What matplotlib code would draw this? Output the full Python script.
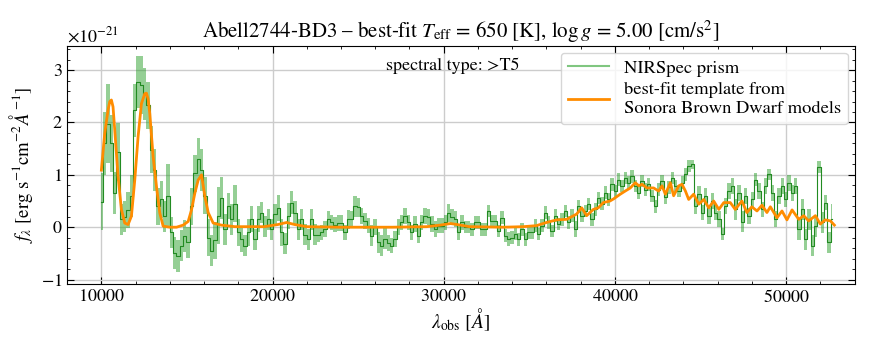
import matplotlib
matplotlib.use("Agg")
import matplotlib.pyplot as plt
from matplotlib.lines import Line2D
import numpy as np

# NIRSpec prism spectrum (flux in units of 1e-21 erg/s/cm2/A)
wave = [10000, 10195, 10390, 10585, 10780, 10975, 11170, 11365, 11560, 11755,
        11950, 12145, 12340, 12535, 12730, 12925, 13120, 13315, 13510, 13705,
        13900, 14095, 14290, 14485, 14680, 14875, 15070, 15265, 15460, 15655,
        15850, 16045, 16240, 16435, 16630, 16825, 17020, 17215, 17410, 17605,
        17800, 17995, 18190, 18385, 18580, 18775, 18970, 19165, 19360, 19555,
        19750, 19945, 20140, 20335, 20530, 20725, 20920, 21115, 21310, 21505,
        21700, 21895, 22090, 22285, 22480, 22675, 22870, 23065, 23260, 23455,
        23650, 23845, 24040, 24235, 24430, 24625, 24820, 25015, 25210, 25405,
        25600, 25795, 25990, 26185, 26380, 26575, 26770, 26965, 27160, 27355,
        27550, 27745, 27940, 28135, 28330, 28525, 28720, 28915, 29110, 29305,
        29500, 29695, 29890, 30085, 30280, 30475, 30670, 30865, 31060, 31255,
        31450, 31645, 31840, 32035, 32230, 32425, 32620, 32815, 33010, 33205,
        33400, 33595, 33790, 33985, 34180, 34375, 34570, 34765, 34960, 35155,
        35350, 35545, 35740, 35935, 36130, 36325, 36520, 36715, 36910, 37105,
        37300, 37495, 37690, 37885, 38080, 38275, 38470, 38665, 38860, 39055,
        39250, 39445, 39640, 39835, 40030, 40225, 40420, 40615, 40810, 41005,
        41200, 41395, 41590, 41785, 41980, 42175, 42370, 42565, 42760, 42955,
        43150, 43345, 43540, 43735, 43930, 44125, 44320, 44515, 44710, 44905,
        45100, 45295, 45490, 45685, 45880, 46075, 46270, 46465, 46660, 46855,
        47050, 47245, 47440, 47635, 47830, 48025, 48220, 48415, 48610, 48805,
        49000, 49195, 49390, 49585, 49780, 49975, 50170, 50365, 50560, 50755,
        50950, 51145, 51340, 51535, 51730, 51925, 52120, 52315, 52510, 52705]
flux = [0.49, 1.60, 1.98, 1.60, 0.65, 1.44, 0.15, 0.20, 0.33, 0.60,
        2.23, 2.77, 2.72, 2.55, 2.33, 1.48, 1.10, 0.40, 0.53, 0.21,
        0.60, -0.10, -0.49, -0.55, -0.35, -0.17, -0.29, 0.40, 1.03, 1.30,
        1.10, 0.60, -0.20, -0.45, -0.25, 0.22, 0.55, -0.04, 0.40, 0.15,
        0.45, -0.10, -0.23, -0.35, -0.10, 0.15, -0.23, 0.15, 0.28, 0.02,
        0.15, -0.04, 0.25, 0.37, -0.10, -0.32, 0.22, 0.47, 0.28, -0.04,
        0.15, -0.14, -0.23, 0.15, -0.14, -0.14, -0.10, -0.04, 0.15, 0.09,
        0.05, 0.08, 0.08, -0.10, 0.15, 0.15, 0.40, 0.38, 0.22, 0.12,
        0.03, -0.16, 0.00, -0.29, -0.35, -0.22, -0.30, -0.35, -0.22, 0.00,
        0.09, 0.22, 0.09, -0.10, 0.06, -0.16, 0.09, 0.22, 0.20, 0.06,
        -0.03, 0.03, 0.03, 0.09, 0.27, 0.20, 0.15, -0.10, 0.09, 0.00,
        0.00, -0.04, 0.09, 0.09, -0.04, -0.04, 0.31, 0.12, 0.12, -0.07,
        0.18, -0.16, -0.23, -0.20, -0.13, -0.23, -0.04, -0.23, -0.10, -0.10,
        0.03, -0.13, 0.03, 0.28, 0.09, -0.07, 0.22, 0.06, 0.15, 0.31,
        0.09, 0.22, -0.04, 0.40, 0.22, 0.31, 0.44, 0.15, 0.34, 0.56,
        0.45, 0.66, 0.53, 0.82, 0.69, 0.91, 0.79, 0.94, 0.85, 0.97,
        0.79, 0.66, 0.88, 0.72, 0.82, 0.60, 0.40, 0.72, 0.88, 0.57,
        0.76, 0.94, 0.79, 0.69, 0.85, 1.01, 1.17, 1.20, 0.40, 0.63,
        0.28, 0.60, 0.21, 0.50, 0.28, 0.15, -0.13, 0.40, 0.69, 0.79,
        0.34, 0.66, 0.10, 0.60, 0.21, 0.53, 0.91, 0.69, 0.34, 0.79,
        1.01, 0.66, 0.15, 0.60, 0.79, 0.53, 0.85, 0.66, 0.79, -0.04,
        0.34, -0.23, 0.15, -0.35, 0.02, 1.15, 0.09, 0.47, -0.29, 0.15]
err = [0.55, 0.60, 0.75, 0.55, 0.40, 0.55, 0.30, 0.30, 0.35, 0.40,
       0.50, 0.50, 0.55, 0.50, 0.45, 0.45, 0.40, 0.35, 0.35, 0.30,
       0.60, 0.30, 0.30, 0.30, 0.30, 0.30, 0.30, 0.35, 0.35, 0.40,
       0.40, 0.35, 0.35, 0.30, 0.35, 0.55, 0.40, 0.30, 0.25, 0.30,
       0.35, 0.25, 0.25, 0.20, 0.25, 0.25, 0.20, 0.25, 0.20, 0.20,
       0.20, 0.20, 0.20, 0.25, 0.25, 0.20, 0.25, 0.22, 0.22, 0.20,
       0.20, 0.20, 0.20, 0.20, 0.20, 0.15, 0.15, 0.15, 0.15, 0.15,
       0.15, 0.15, 0.15, 0.15, 0.18, 0.15, 0.20, 0.18, 0.15, 0.15,
       0.15, 0.20, 0.15, 0.20, 0.20, 0.20, 0.15, 0.15, 0.15, 0.15,
       0.15, 0.15, 0.15, 0.15, 0.15, 0.15, 0.15, 0.15, 0.15, 0.15,
       0.15, 0.15, 0.15, 0.15, 0.17, 0.15, 0.15, 0.15, 0.15, 0.12,
       0.12, 0.12, 0.12, 0.12, 0.12, 0.12, 0.12, 0.12, 0.12, 0.12,
       0.12, 0.12, 0.13, 0.12, 0.12, 0.12, 0.12, 0.12, 0.12, 0.12,
       0.12, 0.12, 0.12, 0.12, 0.12, 0.12, 0.12, 0.12, 0.12, 0.12,
       0.12, 0.12, 0.15, 0.12, 0.12, 0.12, 0.12, 0.12, 0.12, 0.12,
       0.12, 0.12, 0.12, 0.12, 0.12, 0.12, 0.12, 0.12, 0.12, 0.12,
       0.12, 0.12, 0.12, 0.12, 0.12, 0.12, 0.12, 0.12, 0.12, 0.12,
       0.12, 0.12, 0.12, 0.12, 0.12, 0.12, 0.12, 0.08, 0.15, 0.15,
       0.15, 0.15, 0.15, 0.15, 0.15, 0.15, 0.12, 0.15, 0.15, 0.15,
       0.20, 0.15, 0.20, 0.15, 0.15, 0.15, 0.12, 0.15, 0.15, 0.15,
       0.10, 0.15, 0.15, 0.15, 0.15, 0.15, 0.15, 0.15, 0.15, 0.20,
       0.20, 0.20, 0.20, 0.20, 0.20, 0.12, 0.20, 0.15, 0.20, 0.30]

# best-fit Sonora template
model_wave = [10000, 10195, 10390, 10490, 10585, 10680, 10780, 10975, 11170, 11365,
              11560, 11755, 11950, 12145, 12340, 12535, 12633, 12730, 12828, 13022,
              13218, 13413, 13608, 14000, 14390, 14780, 15070, 15265, 15460, 15655,
              15850, 16045, 16240, 16530, 17000, 17800, 19500, 20300, 20820, 21300,
              22000, 24000, 27000, 29000, 29800, 30400, 30800, 31500, 33500, 34640,
              35420, 36000, 36600, 37180, 37760, 38060, 38350, 38740, 39030, 39320,
              39710, 39920, 40310, 40600, 40900, 41190, 41400, 41580, 41870, 42260,
              42550, 42750, 42950, 43240, 43430, 43730, 43920, 44120, 44310, 44600,
              44900, 45190, 45480, 45770, 46070, 46360, 46740, 47030, 47420, 47710,
              48000, 48300, 48590, 48880, 49080, 49470, 49760, 50050, 50350, 50740,
              51030, 51320, 51710, 52000, 52290, 52590, 52820]
model_flux = [1.09, 1.79, 2.24, 2.40, 2.43, 2.30, 1.86, 0.97, 0.34, 0.08,
              0.05, 0.21, 0.90, 1.73, 2.36, 2.55, 2.56, 2.45, 2.17, 1.35,
              0.78, 0.27, 0.02, 0.00, 0.00, 0.04, 0.11, 0.33, 0.65, 0.90,
              1.00, 0.59, 0.28, 0.08, 0.04, 0.01, 0.01, 0.05, 0.09, 0.05,
              0.01, 0.00, 0.00, 0.01, 0.04, 0.07, 0.05, 0.01, 0.00, 0.01,
              0.03, 0.09, 0.14, 0.15, 0.25, 0.37, 0.22, 0.34, 0.37, 0.47,
              0.50, 0.54, 0.63, 0.69, 0.75, 0.85, 0.79, 0.82, 0.75, 0.75,
              0.69, 0.79, 0.63, 0.85, 0.60, 0.79, 0.82, 0.69, 0.53, 0.63,
              0.44, 0.53, 0.37, 0.50, 0.34, 0.47, 0.47, 0.34, 0.50, 0.28,
              0.39, 0.31, 0.42, 0.28, 0.39, 0.18, 0.31, 0.14, 0.33, 0.15,
              0.22, 0.12, 0.22, 0.06, 0.14, 0.12, 0.04]

scale = 1e-21

plt.rcParams['font.family'] = 'serif'
plt.rcParams['font.serif'] = ['STIXGeneral', 'Liberation Serif', 'DejaVu Serif']
plt.rcParams['mathtext.fontset'] = 'stix'
plt.rcParams['axes.formatter.use_mathtext'] = True
plt.rcParams['font.size'] = 13

w = np.array(wave)
f = np.array(flux) * scale
e = np.array(err) * scale

fig, ax = plt.subplots(figsize=(8.72, 3.49), dpi=100)
fig.subplots_adjust(left=0.077, right=0.98, bottom=0.187, top=0.868)

ax.fill_between(w, f - e, f + e, step='mid', color='#2ca02c', alpha=0.5, lw=0)
ax.step(w, f, where='mid', color='#228b22', lw=0.8)
ax.plot(model_wave, np.array(model_flux) * scale, color='darkorange', lw=2)

ax.set_xlim(8000, 54000)
ax.set_ylim(-1.08e-21, 3.46e-21)
ax.grid(True, color='#cccccc', lw=1.0)
ax.set_axisbelow(True)
ax.minorticks_on()
ax.tick_params(which='both', direction='in', top=True, right=True)
ax.tick_params(which='major', length=5)
ax.tick_params(which='minor', length=2.5)

ax.set_xlabel(r'$\lambda_{\rm obs}\ [Å]$', fontsize=14, labelpad=1)
ax.set_ylabel(r'$f_{\lambda}$ [erg s$^{-1}$cm$^{-2}Å^{-1}$]', fontsize=13.5)
ax.set_title(r'Abell2744-BD3 – best-fit $T_{\rm eff}$ = 650 [K], $\log g$ = 5.00 [cm/s$^2$]',
             fontsize=15)
ax.text(0.49, 0.915, 'spectral type: >T5', transform=ax.transAxes,
        ha='center', va='center', fontsize=13)

handles = [Line2D([], [], color='#2ca02c', alpha=0.6, lw=1.5),
           Line2D([], [], color='darkorange', lw=2)]
ax.legend(handles, ['NIRSpec prism', 'best-fit template from\nSonora Brown Dwarf models'],
          loc='upper right', fontsize=13.3, borderaxespad=0.35, handlelength=2.2,
          labelspacing=0.3)

fig.savefig('out.png', dpi=100)
